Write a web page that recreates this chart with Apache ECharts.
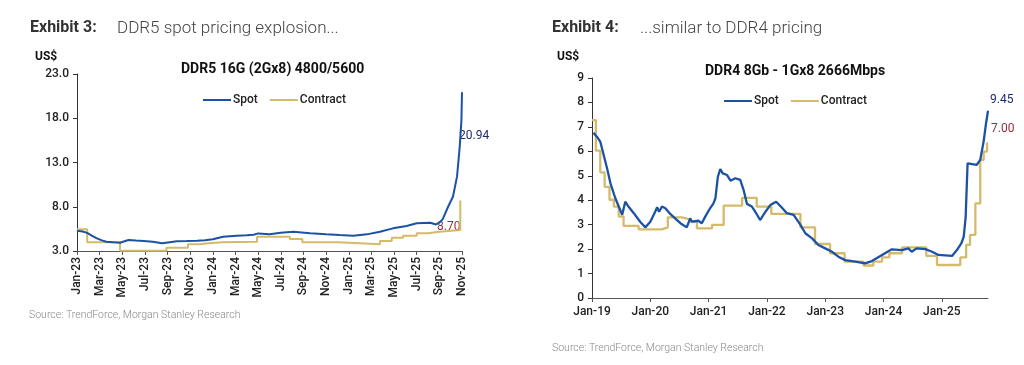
<!DOCTYPE html>
<html>
<head>
<meta charset="utf-8">
<script src="https://cdn.jsdelivr.net/npm/echarts@6/dist/echarts.min.js"></script>
<style>
html,body{margin:0;padding:0;background:#fff;}
#c{width:1024px;height:365px;}
</style>
</head>
<body>
<div id="c"></div>
<script>
// ---------- DATA ----------
// Left chart (DDR5): x = months since Jan-23
const ddr5XLabels = ['Jan-23','Mar-23','May-23','Jul-23','Sep-23','Nov-23','Jan-24','Mar-24','May-24','Jul-24','Sep-24','Nov-24','Jan-25','Mar-25','May-25','Jul-25','Sep-25','Nov-25'];
const ddr5Spot = [[0,5.3],[0.5,5.2],[0.9,5.05],[1.3,4.75],[1.76,4.43],[2.2,4.2],[2.6,4.05],[3.2,3.98],[3.8,3.94],[4.2,4.1],[4.55,4.24],[5.2,4.18],[5.9,4.13],[6.7,4.05],[7.5,3.87],[8.2,4.0],[8.8,4.09],[9.7,4.12],[10.6,4.16],[11.3,4.22],[12.0,4.32],[12.9,4.61],[14.1,4.73],[15.0,4.78],[15.6,4.84],[16.0,4.99],[17,4.88],[18.0,5.05],[19.1,5.18],[20.6,5.0],[22.0,4.88],[23.2,4.8],[24.4,4.73],[25.6,4.88],[26.75,5.18],[27.9,5.56],[29.1,5.82],[30,6.13],[31.2,6.19],[31.7,6.0],[32.0,6.2],[32.3,6.6],[32.77,8.0],[33.2,9.13],[33.56,11.4],[33.8,14.8],[33.95,17.8],[34,20.94]];
const ddr5Contract = [[0,5.45],[0.9,3.98],[3.8,3.03],[7.9,3.37],[9.8,3.76],[10.8,3.87],[11.6,3.98],[12.8,4.05],[15.9,4.61],[18.8,4.35],[19.9,3.98],[23.1,3.76],[26.75,4.13],[27.8,4.5],[28.8,4.73],[30,5.0],[31,5.18],[32,5.37],[33.85,8.7]];
const ddr5SpotLabel = '20.94';
const ddr5ContractLabel = '8.70';

// Right chart (DDR4): x = months since Jan-19
const ddr4XLabels = ['Jan-19','Jan-20','Jan-21','Jan-22','Jan-23','Jan-24','Jan-25'];
const ddr4Spot = [[0.3,6.76],[1.0,6.6],[1.7,6.4],[2.4,5.85],[3.1,5.31],[3.8,4.69],[4.8,4.08],[5.8,3.6],[6.2,3.4],[6.85,3.94],[7.5,3.74],[8.6,3.47],[9.9,3.12],[11,2.89],[12,3.12],[13,3.53],[13.4,3.71],[13.8,3.53],[14.4,3.74],[15.1,3.67],[16.1,3.44],[17.1,3.26],[18.2,3.06],[19.5,2.89],[20.2,3.26],[20.6,3.12],[21.9,3.16],[22.6,3.06],[23.3,3.33],[24.3,3.67],[25.0,3.87],[25.4,4.08],[25.9,4.96],[26.4,5.27],[26.9,5.1],[27.8,5.03],[28.5,4.8],[29.5,4.9],[30.5,4.83],[31.2,4.42],[31.9,3.85],[32.9,3.74],[33.6,3.53],[34.6,3.19],[35.7,3.53],[36.7,3.8],[37.9,3.94],[39.2,3.67],[40.1,3.47],[41.5,3.4],[42.9,2.99],[43.9,2.65],[45.3,2.44],[46.6,2.17],[48,2.03],[49.4,1.89],[50.7,1.69],[52.1,1.55],[54.2,1.49],[56.2,1.42],[57.6,1.51],[59.7,1.76],[61.7,1.99],[63.8,1.96],[65.1,2.03],[65.8,1.89],[66.8,2.03],[68.6,2.0],[70,1.89],[71.3,1.76],[74.1,1.72],[75.1,1.96],[76,2.23],[76.5,2.5],[76.9,3.3],[77.3,5.51],[79.2,5.45],[79.9,5.65],[80.6,6.4],[81.1,7.15],[81.5,7.66]];
const ddr4Contract = [[0,7.28],[0.8,6.03],[1.7,5.14],[2.6,4.55],[3.6,4.02],[4.5,3.74],[5.5,3.33],[6.5,2.95],[9.6,2.81],[14.4,2.89],[15.6,3.3],[18.5,3.22],[20.2,3.12],[21.6,2.85],[24.7,2.99],[27.1,3.78],[30.9,4.1],[33.9,3.74],[36.9,3.44],[42.9,2.89],[45.9,2.21],[49,1.83],[52,1.49],[55.9,1.33],[57.9,1.49],[59.7,1.66],[61.2,1.83],[63.8,2.07],[68.8,1.72],[71,1.35],[75.8,1.66],[77,2.17],[77.8,2.58],[78.9,3.87],[79.9,5.65],[80.6,5.99],[81.3,6.33],[81.5,6.33]];
const ddr4SpotLabel = '9.45';
const ddr4ContractLabel = '7.00';

// ---------- STYLE ----------
const SPOT = '#1c52a3';
const CONTRACT = '#d5ba6a';
const FONT = 'Roboto';
const axisLineCol = '#333';

const chart = echarts.init(document.getElementById('c'), null, {renderer:'canvas'});

function yAxisBase(){
  return {
    type:'value',
    axisLine:{show:true,lineStyle:{color:axisLineCol,width:1}},
    axisTick:{show:true,length:4,lineStyle:{color:axisLineCol}},
    splitLine:{show:false},
    axisLabel:{color:'#222',fontFamily:FONT,fontSize:12,fontWeight:500,margin:8}
  };
}

const ddr4Ticks = ddr4XLabels.map((_,i)=>i*12);

chart.setOption({
  animation:false,
  textStyle:{fontFamily:FONT},
  grid:[
    {left:77,right:562,top:74,bottom:114,containLabel:false},
    {left:592,right:36,top:78,bottom:67,containLabel:false}
  ],
  xAxis:[
    {type:'value',gridIndex:0,min:0,max:34,interval:2,
     axisLine:{show:true,onZero:false,lineStyle:{color:'#555'}},
     axisTick:{show:true,length:4,lineStyle:{color:'#555'}},
     splitLine:{show:false},
     axisLabel:{rotate:90,color:'#222',fontFamily:FONT,fontSize:12,fontWeight:500,margin:6,
       formatter:v=>ddr5XLabels[Math.round(v/2)]||''}},
    {type:'value',gridIndex:1,min:0,max:81.5,
     axisLine:{show:true,onZero:false,lineStyle:{color:'#555'}},
     axisTick:{show:true,length:4,customValues:ddr4Ticks,lineStyle:{color:'#555'}},
     splitLine:{show:false},
     axisLabel:{customValues:ddr4Ticks,color:'#222',fontFamily:FONT,fontSize:12,fontWeight:500,margin:8,
       formatter:v=>ddr4XLabels[Math.round(v/12)]||''}}
  ],
  yAxis:[
    Object.assign(yAxisBase(),{gridIndex:0,min:3,max:23,interval:5,
      axisLabel:Object.assign(yAxisBase().axisLabel,{formatter:v=>v.toFixed(1)})}),
    Object.assign(yAxisBase(),{gridIndex:1,min:0,max:9,interval:1})
  ],
  legend:[
    {data:['Spot','Contract'],left:203,top:94,padding:0,icon:'rect',itemWidth:28,itemHeight:2,itemGap:12,
     textStyle:{fontFamily:FONT,fontSize:12,fontWeight:500,color:'#222',padding:[0,0,0,-3]}},
    {data:['Spot','Contract'],left:724,top:95,padding:0,icon:'rect',itemWidth:28,itemHeight:2,itemGap:12,
     textStyle:{fontFamily:FONT,fontSize:12,fontWeight:500,color:'#222',padding:[0,0,0,-3]}}
  ],
  series:[
    {name:'Spot',type:'line',xAxisIndex:0,yAxisIndex:0,data:ddr5Spot,showSymbol:false,symbol:'none',
     lineStyle:{color:SPOT,width:2},itemStyle:{color:SPOT},z:3},
    {name:'Contract',type:'line',step:'end',xAxisIndex:0,yAxisIndex:0,data:ddr5Contract,showSymbol:false,symbol:'none',
     lineStyle:{color:CONTRACT,width:2},itemStyle:{color:CONTRACT},z:2},
    {name:'Spot',type:'line',xAxisIndex:1,yAxisIndex:1,data:ddr4Spot,showSymbol:false,symbol:'none',
     lineStyle:{color:SPOT,width:2.3},itemStyle:{color:SPOT},z:3},
    {name:'Contract',type:'line',step:'end',xAxisIndex:1,yAxisIndex:1,data:ddr4Contract,showSymbol:false,symbol:'none',
     lineStyle:{color:CONTRACT,width:2.3},itemStyle:{color:CONTRACT},z:2}
  ],
  graphic:[
    {type:'text',left:30,top:20,style:{text:'Exhibit 3:',font:'bold 16px Roboto',fill:'#333'}},
    {type:'text',left:117,top:20,style:{text:'DDR5 spot pricing explosion...',font:'300 17px Roboto',fill:'#444'}},
    {type:'text',left:552,top:20,style:{text:'Exhibit 4:',font:'bold 16px Roboto',fill:'#333'}},
    {type:'text',left:640,top:20,style:{text:'...similar to DDR4 pricing',font:'300 17px Roboto',fill:'#444'}},
    {type:'text',left:35,top:51,style:{text:'US$',font:'bold 12px Roboto',fill:'#111'}},
    {type:'text',left:557,top:51,style:{text:'US$',font:'bold 12px Roboto',fill:'#111'}},
    {type:'text',left:181,top:62,style:{text:'DDR5 16G (2Gx8) 4800/5600',font:'bold 14px Roboto',fill:'#111'}},
    {type:'text',left:705,top:64,style:{text:'DDR4 8Gb - 1Gx8 2666Mbps',font:'bold 14px Roboto',fill:'#111'}},
    {type:'text',left:459,top:130,style:{text:ddr5SpotLabel,font:'12px Roboto',fill:'#1e2a6e'}},
    {type:'text',left:437,top:221,style:{text:ddr5ContractLabel,font:'12px Roboto',fill:'#9a2b3e'}},
    {type:'text',left:990,top:94,style:{text:ddr4SpotLabel,font:'12px Roboto',fill:'#1e2a6e'}},
    {type:'text',left:991,top:123,style:{text:ddr4ContractLabel,font:'12px Roboto',fill:'#9a2b3e'}},
    {type:'text',left:29,top:310,style:{text:'Source: TrendForce, Morgan Stanley Research',font:'300 10.5px Roboto',fill:'#888'}},
    {type:'text',left:552,top:343,style:{text:'Source: TrendForce, Morgan Stanley Research',font:'300 10.5px Roboto',fill:'#888'}}
  ]
});
</script>
</body>
</html>
